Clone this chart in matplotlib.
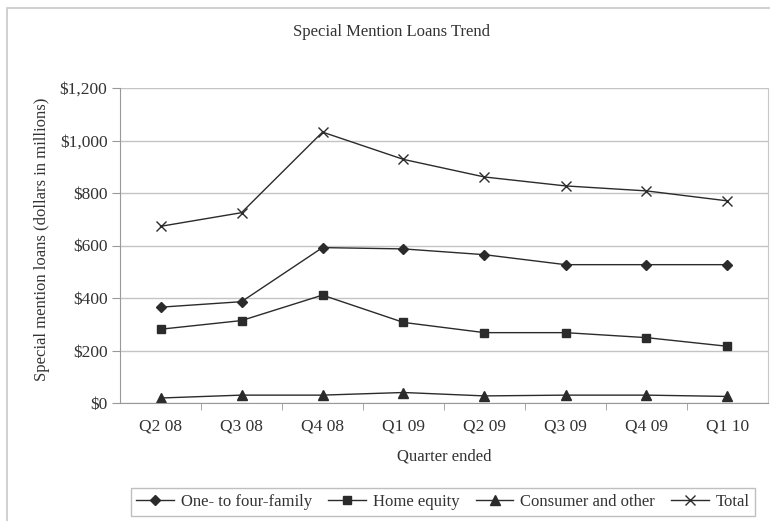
import matplotlib.pyplot as plt
from matplotlib.patches import Rectangle
from matplotlib.ticker import FuncFormatter, MultipleLocator

plt.rcParams['font.family'] = ['Liberation Serif', 'DejaVu Serif']

# Special mention loans by quarter, dollars in millions
quarters = ["Q2 08", "Q3 08", "Q4 08", "Q1 09", "Q2 09", "Q3 09", "Q4 09", "Q1 10"]
one_to_four = [365, 386, 592, 587, 565, 527, 527, 527]
home_equity = [281, 314, 411, 307, 268, 268, 249, 216]
consumer = [19, 30, 30, 40, 27, 30, 30, 25]
total = [673, 725, 1032, 928, 861, 827, 808, 770]

text_color = '#333333'
line_color = '#2b2b2b'

fig = plt.figure(figsize=(7.7, 5.21), dpi=100)

# outer chart frame
fig.patches.append(Rectangle((7 / 770, -0.1), 1.0, 1 - 8 / 521 + 0.1,
                             transform=fig.transFigure, fill=False,
                             edgecolor='#c8c8c8', linewidth=1.2))

ax = fig.add_axes([120 / 770, 1 - 403 / 521, (768 - 120) / 770, (403 - 88) / 521])

x = range(len(quarters))
ax.plot(x, one_to_four, color=line_color, lw=1, marker='D', ms=5, label='One- to four-family')
ax.plot(x, home_equity, color=line_color, lw=1, marker='s', ms=6, label='Home equity')
ax.plot(x, consumer, color=line_color, lw=1, marker='^', ms=7, label='Consumer and other')
ax.plot(x, total, color=line_color, lw=1, marker='x', ms=7, mew=1, label='Total')

ax.set_xlim(-0.5, len(quarters) - 0.5)
ax.set_ylim(0, 1200)
ax.yaxis.set_major_locator(MultipleLocator(200))
ax.yaxis.set_major_formatter(FuncFormatter(lambda v, p: f"${v:,.0f}"))
ax.grid(axis='y', color='#c4c4c4', lw=1)
ax.set_axisbelow(True)

# category labels centred, tick marks between categories
ax.set_xticks(list(x))
ax.set_xticklabels(quarters)
ax.set_xticks([i + 0.5 for i in range(len(quarters) - 1)], minor=True)
ax.tick_params(axis='x', which='major', length=0, pad=11, labelsize=12.5, labelcolor=text_color)
ax.tick_params(axis='x', which='minor', length=5, color='#999999', direction='out')
ax.tick_params(axis='y', length=6, color='#999999', labelsize=12.5, labelcolor=text_color, pad=3)

for side in ['left', 'bottom']:
    ax.spines[side].set_color('#999999')
ax.spines['top'].set_visible(False)
ax.spines['right'].set_color('#c8c8c8')

ax.set_xlabel("Quarter ended", fontsize=12, color=text_color, labelpad=10)
ax.set_ylabel("Special mention loans (dollars in millions)", fontsize=12, color=text_color)
ax.yaxis.set_label_coords(-0.108, 0.52)
fig.text(392 / 770, 1 - 32 / 521, "Special Mention Loans Trend", ha='center', va='center',
         fontsize=12, color=text_color)

leg = fig.legend(loc='center', bbox_to_anchor=(443 / 770, 1 - 502 / 521), ncol=4,
                 fontsize=12, frameon=True, fancybox=False, handlelength=2.25,
                 handletextpad=0.4, columnspacing=1.0, borderpad=0.35)
leg.get_frame().set_edgecolor('#b0b0b0')
leg.get_frame().set_linewidth(1)
for t in leg.get_texts():
    t.set_color(text_color)

fig.savefig('out.png', dpi=100)
